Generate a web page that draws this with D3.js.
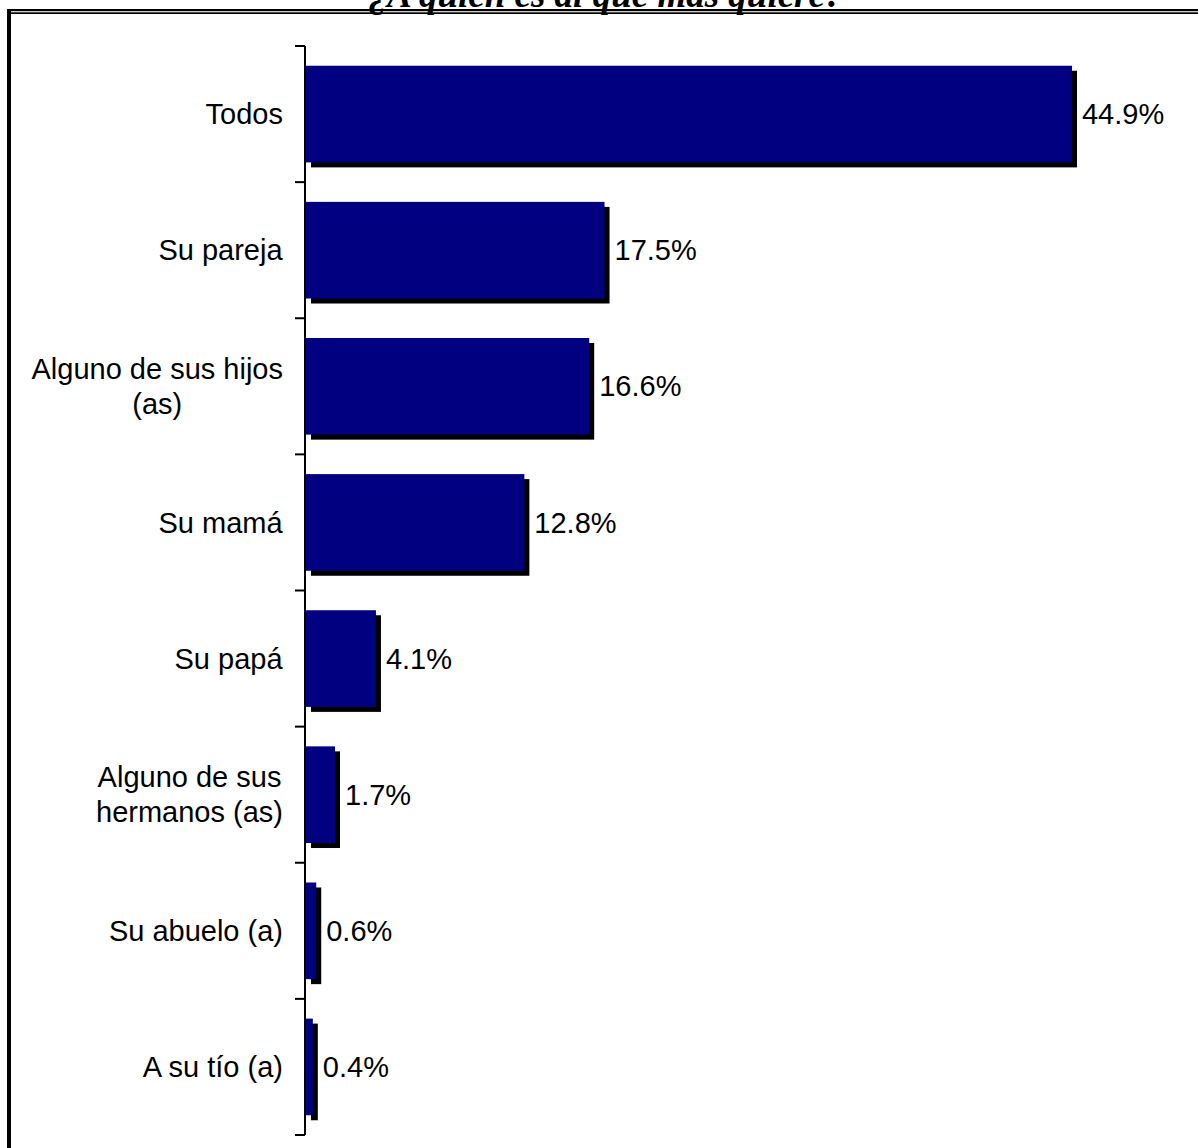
<!DOCTYPE html>
<html>
<head>
<meta charset="utf-8">
<script src="https://cdn.jsdelivr.net/npm/d3@7"></script>
<style>
  body { margin: 0; background: #fff; }
  svg { display: block; }
</style>
</head>
<body>
<div id="chart"></div>
<script>
// Data
const categories = [
  ["Todos"],
  ["Su pareja"],
  ["Alguno de sus hijos", "(as)"],
  ["Su mamá"],
  ["Su papá"],
  ["Alguno de sus", "hermanos (as)"],
  ["Su abuelo (a)"],
  ["A su tío (a)"]
];
const values = [44.9, 17.5, 16.6, 12.8, 4.1, 1.7, 0.6, 0.4];
const title = "¿A quién es al que más quiere?";

const width = 1198, height = 1148;
const axisX = 305;
const plotTop = 46, plotBottom = 1135;
const shadow = 5;

const svg = d3.select("#chart")
  .append("svg")
  .attr("width", width)
  .attr("height", height);

// Frame (double line on top, thick line on the left)
svg.append("rect").attr("x", 7).attr("y", 9).attr("width", width).attr("height", 2.2).attr("fill", "#000");
svg.append("rect").attr("x", 11).attr("y", 12.3).attr("width", width).attr("height", 1.7).attr("fill", "#000");
svg.append("rect").attr("x", 7).attr("y", 9).attr("width", 4).attr("height", height).attr("fill", "#000");

// Title, cut off by the top edge as in the source
svg.append("text")
  .attr("x", 606)
  .attr("y", 7)
  .attr("text-anchor", "middle")
  .style("font-family", "'Liberation Serif', 'DejaVu Serif', serif")
  .style("font-weight", "bold")
  .style("font-style", "italic")
  .style("font-size", "37px")
  .text(title);

// Scales
const idx = d3.range(values.length);
const y = d3.scaleBand()
  .domain(idx)
  .range([plotTop, plotBottom])
  .paddingInner(0.29)
  .paddingOuter(0.145);

const x = d3.scaleLinear()
  .domain([0, 50])
  .range([axisX + 1, axisX + 1 + 853]);

// Shadows
svg.selectAll(".shadow")
  .data(values)
  .enter()
  .append("rect")
  .attr("class", "shadow")
  .attr("x", x(0) + shadow)
  .attr("y", (d, i) => y(i) + shadow)
  .attr("width", d => x(d) - x(0))
  .attr("height", y.bandwidth())
  .attr("fill", "#000");

// Bars
svg.selectAll(".bar")
  .data(values)
  .enter()
  .append("rect")
  .attr("class", "bar")
  .attr("x", x(0))
  .attr("y", (d, i) => y(i))
  .attr("width", d => x(d) - x(0))
  .attr("height", y.bandwidth())
  .attr("fill", "#000080");

// Axis with ticks between categories
const step = y.step();
const tickY = d3.range(values.length + 1).map(i => plotTop + i * step);
svg.append("line")
  .attr("x1", axisX).attr("x2", axisX)
  .attr("y1", plotTop).attr("y2", plotBottom)
  .attr("stroke", "#000").attr("stroke-width", 2);
svg.selectAll(".tick")
  .data(tickY)
  .enter()
  .append("line")
  .attr("x1", axisX - 10).attr("x2", axisX)
  .attr("y1", d => d).attr("y2", d => d)
  .attr("stroke", "#000").attr("stroke-width", 2);

// Value labels
svg.selectAll(".val")
  .data(values)
  .enter()
  .append("text")
  .attr("x", d => x(d) + shadow + 5)
  .attr("y", (d, i) => y(i) + y.bandwidth() / 2)
  .attr("dy", "0.35em")
  .style("font-family", "'Liberation Sans', Arial, sans-serif")
  .style("font-size", "29px")
  .attr("fill", "#000")
  .text(d => d.toFixed(1) + "%");

// Category labels (multi-line, centered inside a right-aligned block)
const lineH = 35;
categories.forEach((lines, i) => {
  const cy = y(i) + y.bandwidth() / 2;
  const g = svg.append("g");
  const t = g.append("text")
    .style("font-family", "'Liberation Sans', Arial, sans-serif")
    .style("font-size", "29px")
    .attr("fill", "#000")
    .attr("text-anchor", "middle");
  lines.forEach((s, k) => {
    t.append("tspan")
      .attr("x", 0)
      .attr("y", cy + (k - (lines.length - 1) / 2) * lineH)
      .attr("dy", "0.35em")
      .text(s);
  });
  const w = t.node().getBBox().width;
  g.attr("transform", `translate(${axisX - 22 - w / 2},0)`);
});
</script>
</body>
</html>
